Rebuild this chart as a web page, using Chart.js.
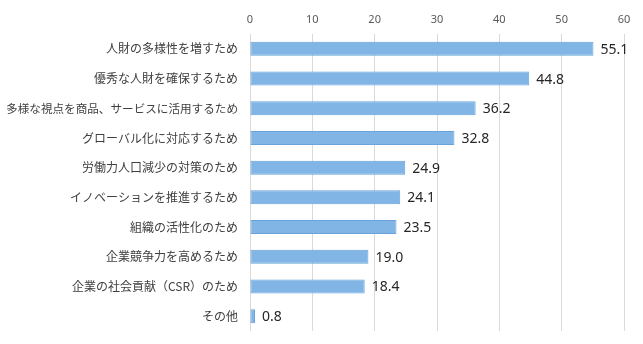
<!DOCTYPE html>
<html><head><meta charset="utf-8">
<script src="https://cdn.jsdelivr.net/npm/chart.js@4"></script>
<style>html,body{margin:0;padding:0;background:#fff}#w{width:643px;height:344px}</style>
</head><body><div id="w"><canvas id="c"></canvas></div>
<script>
const categories = ["人財の多様性を増すため","優秀な人財を確保するため","多様な視点を商品、サービスに活用するため","グローバル化に対応するため","労働力人口減少の対策のため","イノベーションを推進するため","組織の活性化のため","企業競争力を高めるため","企業の社会貢献（CSR）のため","その他"];
const values = [55.1,44.8,36.2,32.8,24.9,24.1,23.5,19.0,18.4,0.8];
const xTicks = [0,10,20,30,40,50,60];

const valueLabels = {
  id:'valueLabels',
  afterDatasetsDraw(chart){
    const ctx = chart.ctx;
    const meta = chart.getDatasetMeta(0);
    ctx.save();
    ctx.font = '14px "Noto Sans", "DejaVu Sans", sans-serif';
    ctx.fillStyle = '#262626';
    ctx.textAlign = 'left';
    ctx.textBaseline = 'middle';
    meta.data.forEach((bar,i)=>{
      ctx.fillText(values[i].toFixed(1), bar.x + 7, bar.y + 1);
    });
    ctx.restore();
  }
};

new Chart(document.getElementById('c'), {
  type:'bar',
  data:{labels:categories, datasets:[{data:values, backgroundColor:'#80b5e5', borderColor:'#68a3db', borderWidth:1, borderSkipped:false, barPercentage:0.47, categoryPercentage:1}]},
  options:{
    indexAxis:'y', responsive:true, maintainAspectRatio:false, animation:false,
    layout:{padding:{top:0,right:19,bottom:13,left:0}},
    plugins:{legend:{display:false}, tooltip:{enabled:false}},
    scales:{
      x:{position:'top', min:0, max:60,
        afterBuildTicks(s){ s.ticks = xTicks.map(v=>({value:v})); },
        afterFit(s){ s.height = 34; },
        grid:{color:'#d9d9d9', drawTicks:false, lineWidth:1},
        border:{display:false},
        ticks:{color:'#595959', padding:8, font:{size:11, family:'"Noto Sans", "DejaVu Sans", sans-serif'}}
      },
      y:{
        afterFit(s){ s.width = 250; },
        grid:{display:false},
        border:{display:false},
        ticks:{color:'#404040', padding:4,
          font:(c)=>({size: (c.index===2 ? 11.6 : 12), family:'"Noto Sans CJK JP", sans-serif'})}
      }
    }
  },
  plugins:[valueLabels]
});
</script></body></html>
